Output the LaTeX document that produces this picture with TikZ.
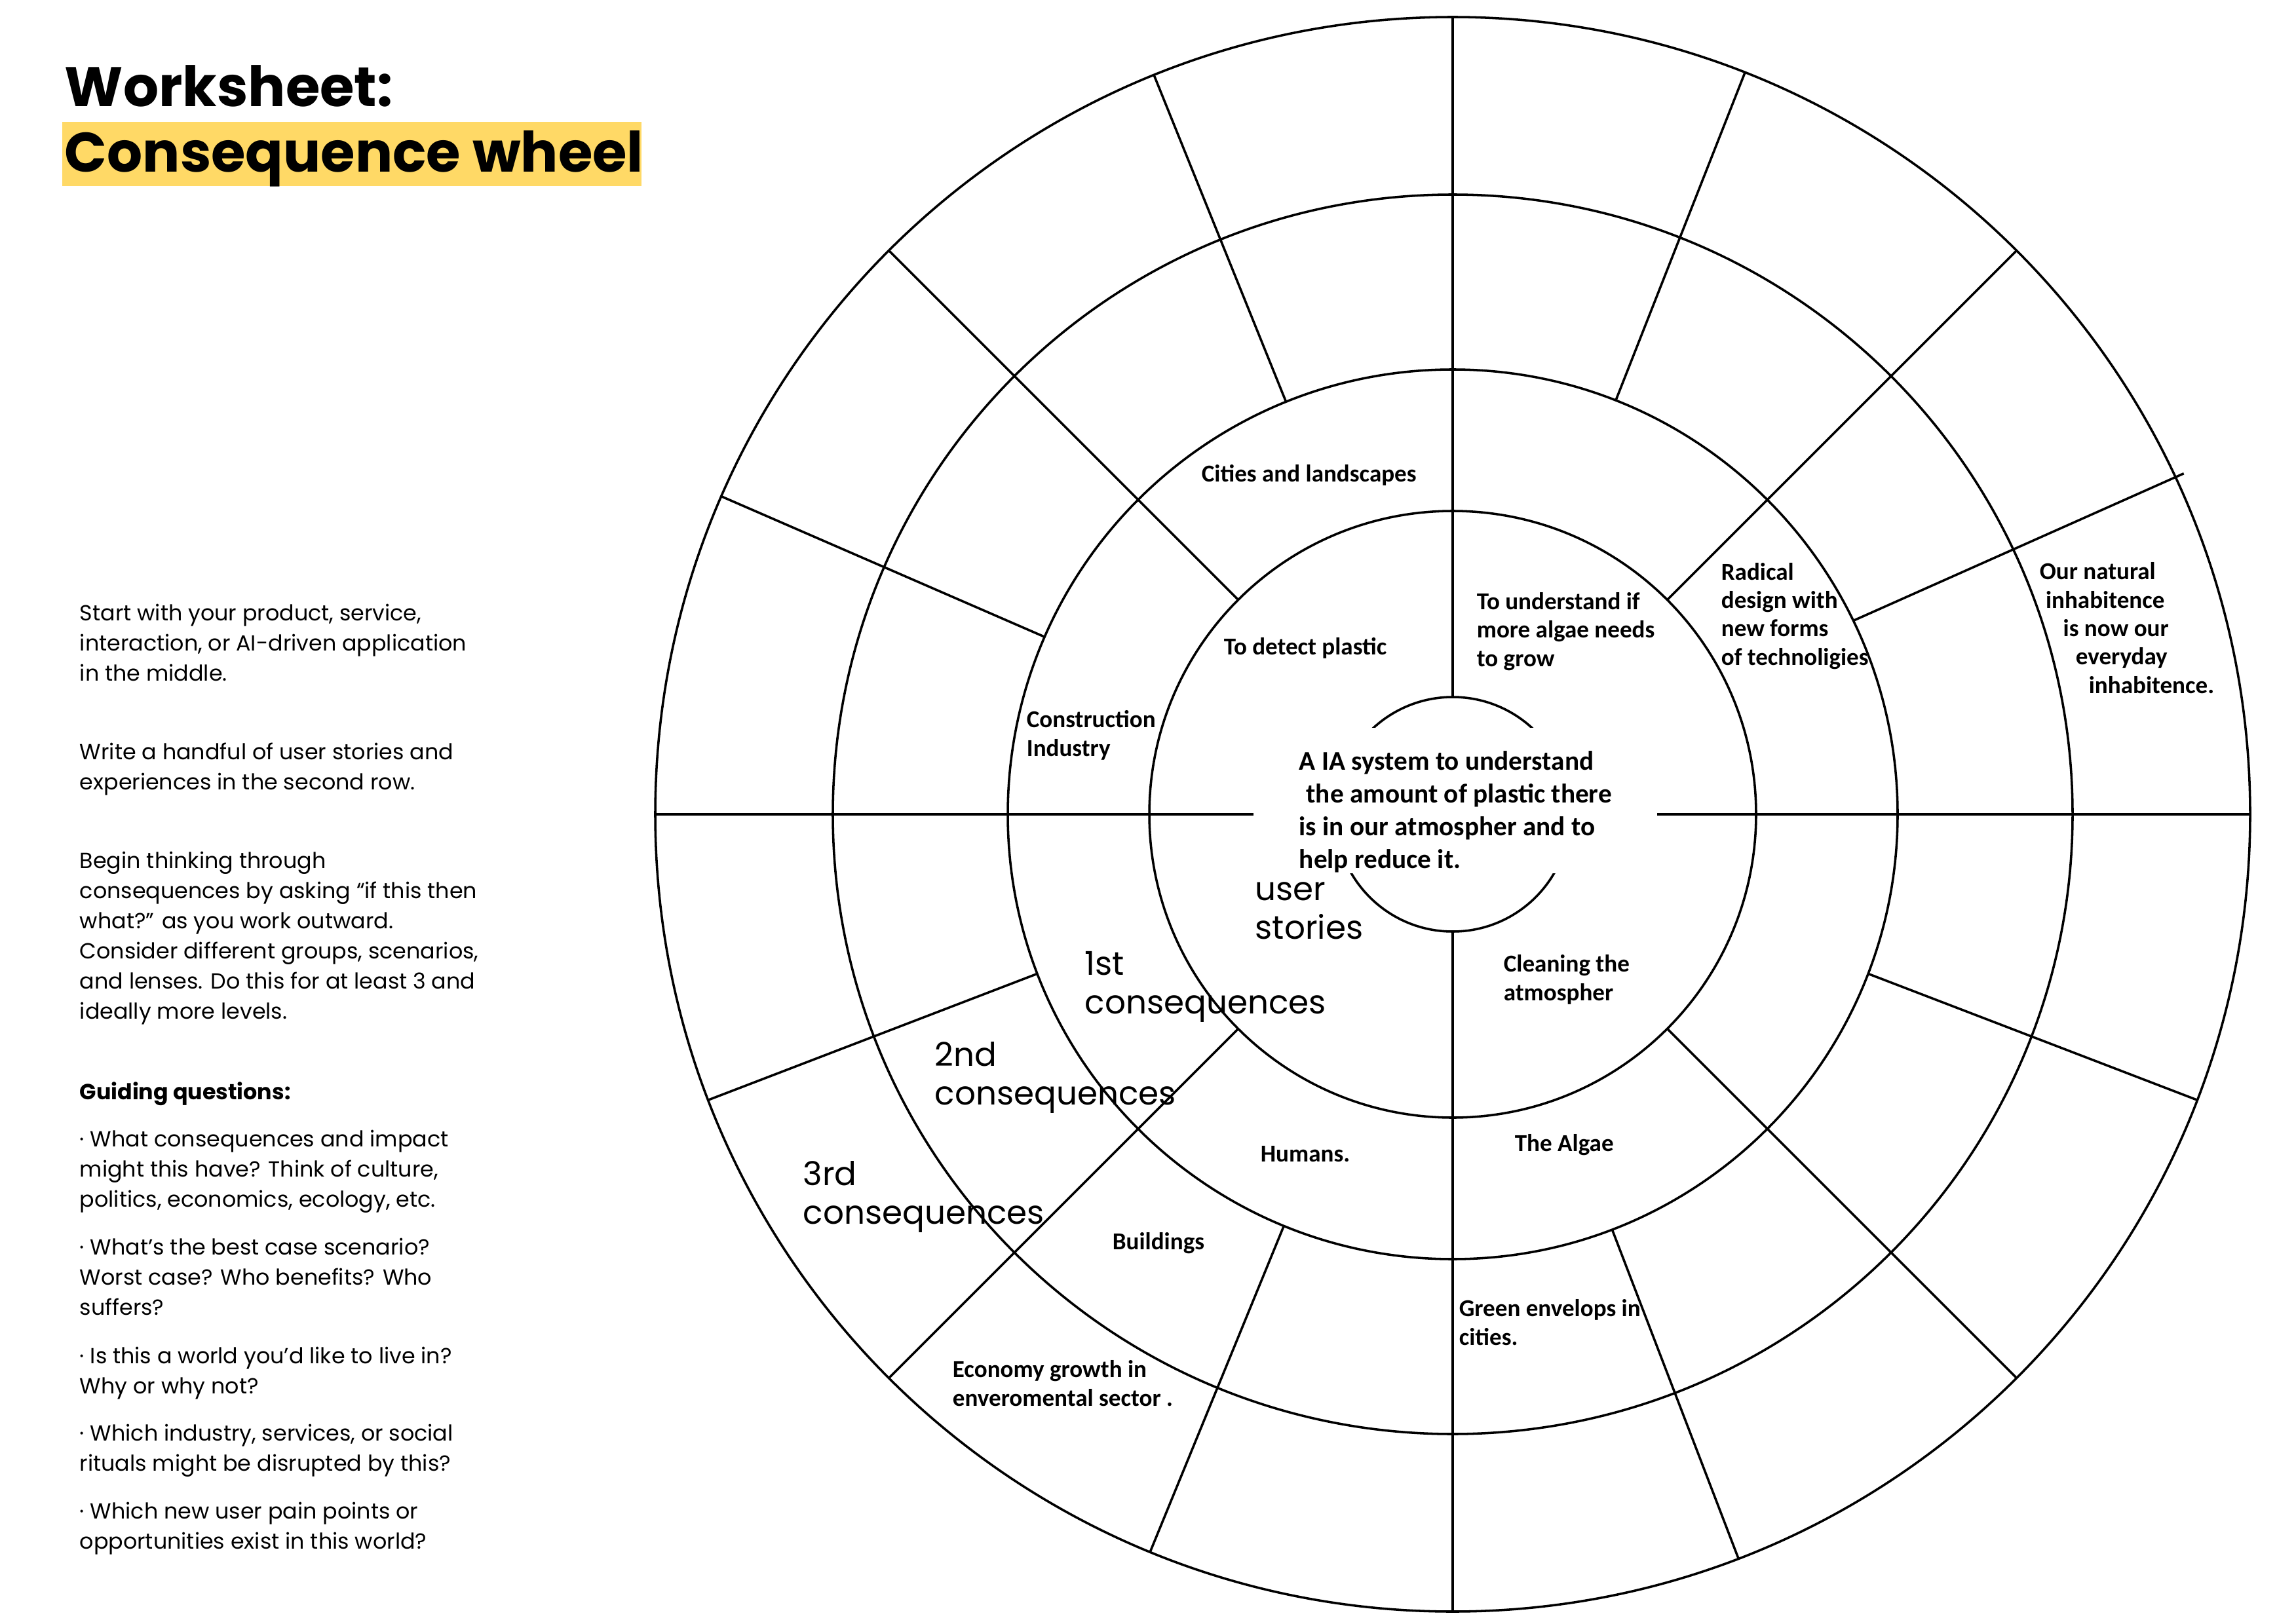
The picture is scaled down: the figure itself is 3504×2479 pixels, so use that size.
\documentclass[tikz,border=0pt]{standalone}
\usepackage{fontspec}
\usetikzlibrary{calc}
\setmainfont{Poppins}
\newfontfamily\lblfont{Carlito}
\definecolor{hl}{HTML}{FFD966}
\begin{document}
% note: for multi-line nodes, anchor "base west" sits on the baseline of the LAST line
\begin{tikzpicture}[x=0.24pt,y=-0.24pt,
  wheel/.style={line width=0.85pt,black},
  titletext/.style={anchor=base west,inner sep=0pt,font=\fontsize{20.4}{24}\selectfont\bfseries},
  bodytext/.style={anchor=base west,inner sep=0pt,align=left,font=\fontsize{8}{11}\selectfont},
  ringtext/.style={anchor=base west,inner sep=0pt,align=left,font=\fontsize{12}{14}\selectfont},
  lbltext/.style={anchor=base west,inner sep=0pt,align=left,font=\lblfont\bfseries\fontsize{8.9}{10.4}\selectfont},
  centertext/.style={anchor=base west,inner sep=0pt,align=left,font=\lblfont\bfseries\fontsize{9.9}{12}\selectfont}]
\useasboundingbox (0,0) rectangle (3504,2479);
\fill[white] (0,0) rectangle (3504,2479);

% title
\fill[hl] (95,186) rectangle (979,284);
\node[titletext] (t1) at (98,163) {Worksheet:};
\node[titletext] (t2) at (98,263) {Consequence wheel};

% left column
\node[bodytext] (p1) at (121,1039) {Start with your product, service,\\interaction, or AI-driven application\\in the middle.};
\node[bodytext] (p2) at (121,1205) {Write a handful of user stories and\\experiences in the second row.};
\node[bodytext] (p3) at (121,1555) {Begin thinking through\\consequences by asking “if this then\\what?” as you work outward.\\Consider different groups, scenarios,\\and lenses. Do this for at least 3 and\\ideally more levels.};
\node[bodytext,font=\fontsize{8}{11}\selectfont\bfseries] (gq) at (121,1678) {Guiding questions:};
\node[bodytext] (b1) at (121,1842) {· What consequences and impact\\might this have? Think of culture,\\politics, economics, ecology, etc.};
\node[bodytext] (b2) at (121,2007) {· What’s the best case scenario?\\Worst case? Who benefits? Who\\suffers?};
\node[bodytext] (b3) at (121,2127) {· Is this a world you’d like to live in?\\Why or why not?};
\node[bodytext] (b4) at (121,2245) {· Which industry, services, or social\\rituals might be disrupted by this?};
\node[bodytext] (b5) at (121,2364) {· Which new user pain points or\\opportunities exist in this world?};

% wheel
\coordinate (c) at (2217,1243);
\def\Ra{1217}\def\Rb{946}\def\Rc{679}\def\Rd{463}\def\Re{179}
\foreach \r in {\Ra,\Rb,\Rc,\Rd,\Re}
  \draw[wheel] (c) circle[radius=\r];
% axes (math angle a -> tikz angle -a because y is flipped)
\foreach \a in {0,90,180,270}
  \draw[wheel] ($(c)+(-\a:\Re)$) -- ($(c)+(-\a:\Ra)$);
% diagonal spokes from the first ring
\foreach \a in {45,135,225,315}
  \draw[wheel] ($(c)+(-\a:\Rd)$) -- ($(c)+(-\a:\Ra)$);
% spokes from the second ring
\foreach \a in {68.5,112,156.5,201,247.7,291,339}
  \draw[wheel] ($(c)+(-\a:\Rc)$) -- ($(c)+(-\a:\Ra)$);
\draw[wheel] ($(c)+(-25.8:\Rc)$) -- ($(c)+(-25:1231)$);

% centre box and text
\fill[white] (1913,1111) rectangle (2529,1333);
\node[centertext] (core) at (1982,1325) {A IA system to understand\\\hspace*{2.6pt}the amount of plastic there\\is in our atmospher and to\\help reduce it.};

% ring names
\node[ringtext] (r0) at (1915,1433) {user\\stories};
\node[ringtext] (r1) at (1655,1547) {1st\\consequences};
\node[ringtext] (r2) at (1426,1686) {2nd\\consequences};
\node[ringtext] (r3) at (1225,1868) {3rd\\consequences};

% labels
\node[lbltext] (l1) at (1833,735) {Cities and landscapes};
\node[lbltext] (l2) at (1867,999) {To detect plastic};
\node[lbltext] (l3) at (1566,1154) {Construction\\Industry};
\node[lbltext] (l4) at (2253,1017) {To understand if\\more algae needs\\to grow};
\node[lbltext] (l5) at (2626,1015) {Radical\\design with\\new forms\\of technoligies};
\node[lbltext] (l6) at (3112,1058) {Our natural\\\hspace*{2.2pt}inhabitence\\\hspace*{8.6pt}is now our\\\hspace*{13.2pt}everyday\\\hspace*{18pt}inhabitence.};
\node[lbltext] (l7) at (2294,1527) {Cleaning the\\atmospher};
\node[lbltext] (l8) at (2311,1757) {The Algae};
\node[lbltext] (l9) at (2226,2053) {Green envelops in\\cities.};
\node[lbltext] (l10) at (1923,1773) {Humans.};
\node[lbltext] (l11) at (1697,1907) {Buildings};
\node[lbltext] (l12) at (1453,2146) {Economy growth in\\enveromental sector .};
\end{tikzpicture}
\end{document}
